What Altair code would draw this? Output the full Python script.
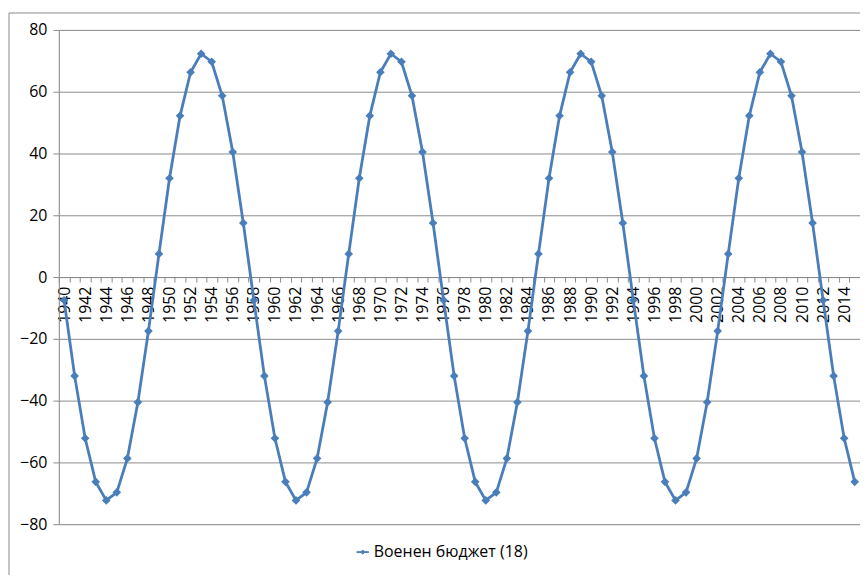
import altair as alt
import pandas as pd

years = list(range(1940, 2016))
values = [
    -7.5, -32.0, -52.2, -66.3, -72.3, -69.7, -58.7, -40.5, -17.5,
    7.5, 32.0, 52.2, 66.3, 72.3, 69.7, 58.7, 40.5, 17.5,
    -7.5, -32.0, -52.2, -66.3, -72.3, -69.7, -58.7, -40.5, -17.5,
    7.5, 32.0, 52.2, 66.3, 72.3, 69.7, 58.7, 40.5, 17.5,
    -7.5, -32.0, -52.2, -66.3, -72.3, -69.7, -58.7, -40.5, -17.5,
    7.5, 32.0, 52.2, 66.3, 72.3, 69.7, 58.7, 40.5, 17.5,
    -7.5, -32.0, -52.2, -66.3, -72.3, -69.7, -58.7, -40.5, -17.5,
    7.5, 32.0, 52.2, 66.3, 72.3, 69.7, 58.7, 40.5, 17.5,
    -7.5, -32.0, -52.2, -66.3,
]
series_name = "Военен бюджет (18)"
y_ticks = [-80, -60, -40, -20, 0, 20, 40, 60, 80]

df = pd.DataFrame({"year": years, "value": values, "series": [series_name] * len(years)})

FONT = "Open Sans"
BLUE = "#4A7EBB"
GRID = "#8C8C8C"

frame = alt.Chart(pd.DataFrame({"k": [0]})).mark_rect(
    fill=None, stroke="#8C8C8C", strokeWidth=1, clip=False
).encode(
    x=alt.value(-50), x2=alt.value(900), y=alt.value(-17), y2=alt.value(600)
)

line = alt.Chart(df).mark_line(
    strokeWidth=2.8,
    point=alt.OverlayMarkDef(shape="diamond", size=75, filled=True, color=BLUE),
).encode(
    x=alt.X(
        "year:O",
        scale=alt.Scale(type="band", paddingInner=0, paddingOuter=0),
        axis=alt.Axis(
            title=None,
            orient="bottom",
            offset=-248,
            labelAngle=270,
            labelExpr="datum.value % 2 == 0 ? datum.label : ''",
            labelOverlap=False,
            labelFontSize=16,
            labelFont=FONT,
            labelColor="#000000",
            labelPadding=4,
            tickBand="extent",
            tickSize=5,
            tickColor=GRID,
            domainColor=GRID,
            grid=False,
        ),
    ),
    y=alt.Y(
        "value:Q",
        scale=alt.Scale(domain=[-80, 80], nice=False, zero=False),
        axis=alt.Axis(
            title=None,
            values=y_ticks,
            grid=True,
            gridColor=GRID,
            gridWidth=1,
            domainColor=GRID,
            tickColor=GRID,
            tickSize=6,
            labelPadding=6,
            labelFontSize=16,
            labelFont=FONT,
            labelColor="#000000",
        ),
    ),
    color=alt.Color(
        "series:N",
        scale=alt.Scale(range=[BLUE]),
        legend=alt.Legend(
            title=None,
            orient="none",
            legendX=297,
            legendY=516,
            symbolType="M-1,-0.06L1,-0.06L1,0.06L-1,0.06Z M0,-0.35L0.35,0L0,0.35L-0.35,0Z",
            symbolSize=140,
            symbolStrokeWidth=1,
            symbolFillColor=BLUE,
            symbolStrokeColor=BLUE,
            labelFontSize=16,
            labelFont=FONT,
            labelColor="#000000",
            labelOffset=3,
        ),
    ),
)

chart = alt.layer(frame, line).properties(
    width=804,
    height=496,
    autosize=alt.AutoSizeParams(type="none"),
    padding={"left": 51, "top": 21, "right": 0, "bottom": 50},
).configure_view(stroke=None).configure(background="#FFFFFF")

chart.save("out.html", embed_options={"renderer": "svg", "actions": False})
